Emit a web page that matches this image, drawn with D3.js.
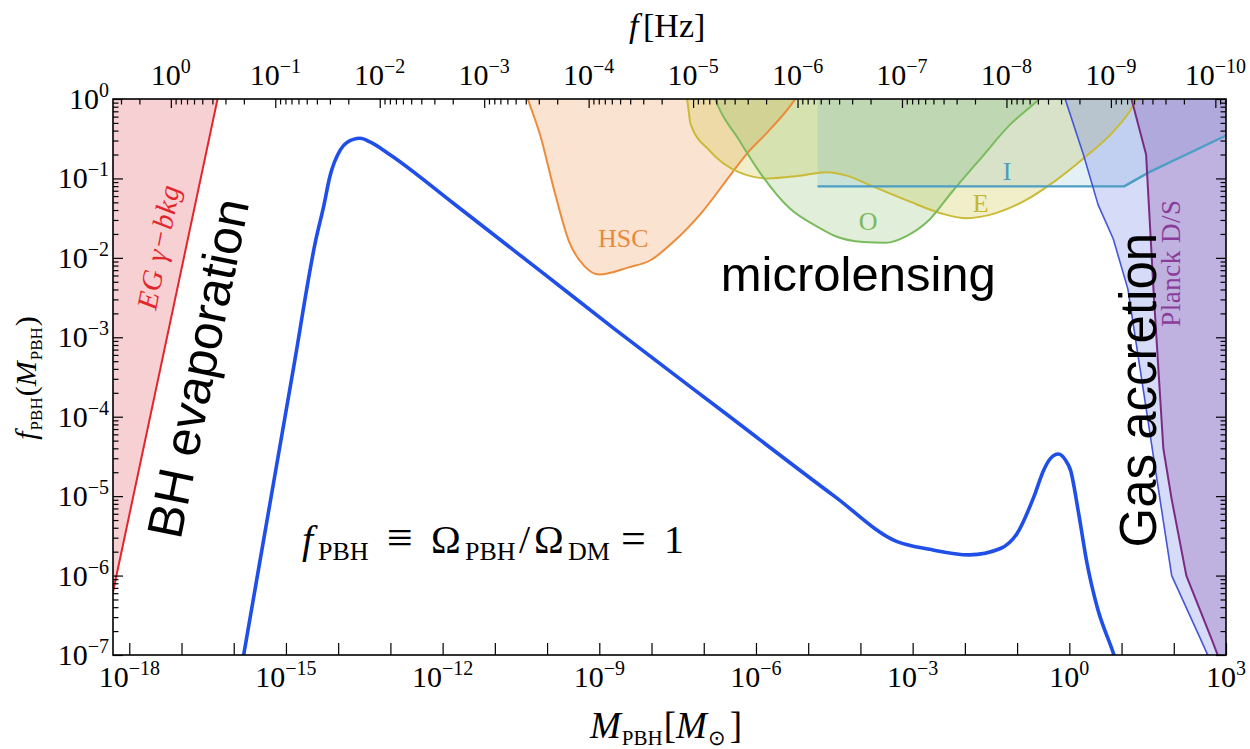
<!DOCTYPE html>
<html>
<head>
<meta charset="utf-8">
<title>PBH abundance and constraints</title>
<script src="https://cdn.jsdelivr.net/npm/d3@7/dist/d3.min.js"></script>
<style>
  html, body { margin: 0; padding: 0; background: #fff; }
  svg { display: block; }
</style>
</head>
<body>
<svg id="chart" width="1250" height="749"></svg>
<script>
// ---------- data (masses in solar masses, fractions f_PBH) ----------
const pbhMass = [1.26e-16, 1.55e-16, 5.01e-16, 1.41e-15, 3.80e-15, 5.25e-15, 6.92e-15, 1.10e-14, 1.45e-14,
  2.63e-14, 4.07e-14, 1e-13, 1.58e-12, 7.94e-11, 2.0e-9, 2.51e-7, 3.16e-5, 4.9e-4, 2.09e-3, 1.23e-2,
  4.79e-2, 0.1, 0.209, 0.324, 0.437, 0.617, 0.851, 1.05, 1.51, 2.19, 3.39, 7.08, 8.91];
const pbhFraction = [4.5e-8, 1.0e-7, 8.51e-6, 4.27e-4, 1.78e-2, 4.37e-2, 0.105, 0.229, 0.282,
  0.32, 0.288, 0.197, 0.049, 6.6e-3, 1.26e-3, 1.12e-4, 1.0e-5, 2.69e-6, 2.14e-6, 1.82e-6,
  2.19e-6, 3.39e-6, 9.77e-6, 2.14e-5, 2.99e-5, 3.39e-5, 2.82e-5, 2.14e-5, 6.03e-6, 1.41e-6, 4.07e-7, 1.02e-7, 6.3e-8];

// extragalactic gamma-ray background (evaporation)
const egMass = [3.16e-19, 4.9e-17, 6.31e-17];
const egFrac = [1.62e-7, 1.0, 2.19];

// Subaru HSC microlensing
const hscMass = [3.80e-11, 4.27e-11, 7.41e-11, 1.41e-10, 2.69e-10, 5.13e-10, 1e-9, 3.63e-9, 9.55e-9,
  2.51e-8, 9.12e-8, 3.39e-7, 6.46e-7, 1.70e-6, 5.25e-6, 6.31e-6];
const hscFrac = [1.26, 1, 0.347, 0.066, 0.0155, 7.94e-3, 6.17e-3, 7.59e-3, 9.33e-3,
  0.0155, 0.0372, 0.115, 0.2, 0.389, 0.933, 1.12];

// EROS
const erosMass = [4.37e-8, 4.79e-8, 5.62e-8, 1.29e-7, 4.68e-7, 1.70e-6, 6.17e-6, 2.24e-5, 5.89e-5,
  1.58e-4, 7.94e-4, 3.98e-3, 0.0105, 0.038, 0.141, 0.513, 1.86, 6.92, 15.5, 19.5, 21.4];
const erosFrac = [1.26, 1, 0.479, 0.224, 0.120, 0.1, 0.107, 0.120, 0.107,
  0.0813, 0.0525, 0.0355, 0.0316, 0.0363, 0.0525, 0.0912, 0.178, 0.389, 0.759, 1, 1.12];

// OGLE
const ogleMass = [1.51e-7, 1.66e-7, 4.68e-7, 1.23e-6, 4.47e-6, 1.62e-5, 3.09e-5, 1.15e-4, 3.02e-4,
  7.94e-4, 2.09e-3, 5.50e-3, 0.02, 0.0741, 0.195, 0.269, 0.302];
const ogleFrac = [1.2, 1, 0.309, 0.115, 0.0417, 0.024, 0.0191, 0.0158, 0.0155,
  0.0191, 0.0302, 0.066, 0.178, 0.479, 0.832, 1, 1.07];

// Icarus
const icarusMass = [1.51e-5, 1.51e-5, 11.2, 33.9, 174, 1000, 1500];
const icarusFrac = [1, 0.0794, 0.0794, 0.12, 0.2, 0.347, 0.38];

// gas accretion
const gasMass = [0.759, 0.832, 1.86, 3.55, 6.92, 13.2, 25.1, 47.9, 91.2, 331, 631];
const gasFrac = [1.26, 1, 0.2, 0.0468, 0.0174, 4.07e-3, 2.57e-4, 1.58e-5, 1e-6, 1.55e-7, 6.0e-8];

// Planck (disk / spherical accretion)
const planckMass = [14.1, 15.5, 29.5, 41.7, 63.1, 91.2, 174, 537, 794];
const planckFrac = [1.26, 1, 0.2, 3.16e-3, 3.98e-5, 9.12e-6, 1e-6, 1.55e-7, 7.9e-8];

// tick exponents
const massLabelExps = [-18, -15, -12, -9, -6, -3, 0, 3];
const fracLabelExps = [0, -1, -2, -3, -4, -5, -6, -7];
const freqLabelExps = [0, -1, -2, -3, -4, -5, -6, -7, -8, -9, -10];

// GW frequency associated with a PBH mass: f ~ 2.5e-9 Hz (M / Msun)^(-1/2)
const HZ_AT_SOLAR_MASS = 2.5e-9;
const massToFreq = m => HZ_AT_SOLAR_MASS / Math.sqrt(m);

// ---------- layout ----------
const plot = { left: 113, right: 1226, top: 99, bottom: 655 };
const massDomain = [4.88e-19, 1e3];
const fracDomain = [1e-7, 1];

const svg = d3.select('#chart');
const x = d3.scaleLog().domain(massDomain).range([plot.left, plot.right]);
const y = d3.scaleLog().domain(fracDomain).range([plot.bottom, plot.top]);
const xf = d3.scaleLog().domain(massDomain.map(massToFreq)).range([plot.left, plot.right]);

const SERIF = "'Liberation Serif', 'Times New Roman', serif";
const SANS = "'Liberation Sans', Arial, Helvetica, sans-serif";

svg.append('defs').append('clipPath').attr('id', 'plot-clip')
  .append('rect').attr('x', plot.left).attr('y', plot.top)
  .attr('width', plot.right - plot.left).attr('height', plot.bottom - plot.top);

const area = svg.append('g').attr('clip-path', 'url(#plot-clip)');

const pts = (ms, fs) => d3.zip(ms, fs);
const lineOf = curve => d3.line().x(d => x(d[0])).y(d => y(d[1])).curve(curve);
const smooth = lineOf(d3.curveMonotoneX);
const straight = lineOf(d3.curveLinear);

const outL = plot.left - 40, outR = plot.right + 40, outT = plot.top - 40, outB = plot.bottom + 40;

function region(path, fill, opacity) {
  area.append('path').attr('d', path).attr('fill', fill).attr('fill-opacity', opacity).attr('stroke', 'none');
}
function edge(path, color, width) {
  area.append('path').attr('d', path).attr('fill', 'none').attr('stroke', color)
    .attr('stroke-width', width).attr('stroke-linejoin', 'round');
}

// evaporation bound
const egPts = pts(egMass, egFrac);
region(straight(egPts) + `L${outL},${outT}Z`, 'rgb(222,60,72)', 0.24);

// microlensing bounds
const hscPts = pts(hscMass, hscFrac);
const erosPts = pts(erosMass, erosFrac);
const oglePts = pts(ogleMass, ogleFrac);
const icarusPts = pts(icarusMass, icarusFrac);
region(smooth(hscPts) + 'Z', 'rgb(240,140,62)', 0.24);
region(smooth(erosPts) + 'Z', 'rgb(200,192,45)', 0.26);
region(smooth(oglePts) + 'Z', 'rgb(118,184,88)', 0.22);
region(straight(icarusPts) + `L${outR},${outT}Z`, 'rgb(80,160,200)', 0.16);

// accretion bounds
const gasPts = pts(gasMass, gasFrac);
const planckPts = pts(planckMass, planckFrac);
region(straight(gasPts) + `L${outR},${outB}L${outR},${outT}Z`, 'rgb(92,110,222)', 0.25);
region(straight(planckPts) + `L${outR},${outB}L${outR},${outT}Z`, 'rgb(128,58,160)', 0.26);

edge(straight(egPts), '#e3262c', 2);
edge(smooth(hscPts), '#ec8b3a', 2);
edge(smooth(erosPts), '#c9bb38', 2);
edge(smooth(oglePts), '#7bbb5e', 2);
edge(straight(icarusPts.slice(1)), '#4c9ec4', 2.4);
edge(straight(gasPts), '#4556d8', 1.6);
edge(straight(planckPts), '#7b2a84', 2);

// PBH mass function
edge(smooth(pts(pbhMass, pbhFraction)), '#1f4fe8', 3.6);

// ---------- annotations ----------
const notes = svg.append('g');

function placeText(m, f, txt, opts) {
  const t = notes.append('text')
    .attr('transform', `translate(${x(m)},${y(f)}) rotate(${opts.rotate || 0})`)
    .attr('text-anchor', 'middle')
    .attr('font-family', opts.font || SERIF)
    .attr('font-size', opts.size)
    .attr('fill', opts.color || '#000')
    .text(txt);
  if (opts.italic) t.attr('font-style', 'italic');
  if (opts.dy) t.attr('dy', opts.dy);
  if (opts.spacing) t.attr('letter-spacing', opts.spacing);
  return t;
}

placeText(2.88e-9, 0.0138, 'HSC', { size: 26, color: '#e8893c' });
placeText(1.41e-4, 0.0224, 'O', { size: 26, color: '#7ab85c' });
placeText(0.02, 0.038, 'E', { size: 26, color: '#c4b631' });
placeText(0.0646, 0.0955, 'I', { size: 26, color: '#4a9cc0' });
placeText(134, 8.6e-3, 'Planck D/S', { size: 27, color: '#8a3d98', rotate: -90, spacing: 0.5 });
placeText(9.1e-5, 3.82e-3, 'microlensing', { size: 49, font: SANS });
placeText(3.55e-18, 0.0138, 'EG \u03b3\u2212bkg', { size: 29, color: '#e3262c', rotate: -79, italic: true, dy: '0.35em', spacing: 1 });
placeText(2.0e-17, 4.1e-4, 'BH evaporation', { size: 50, font: SANS, rotate: -78.5, dy: '0.36em' });
placeText(20.2, 2.16e-4, 'Gas accretion', { size: 51, font: SANS, rotate: -90, dy: '0.36em' });

// math-style text built from pieces
function mathText(sel, parts, size, subRatio) {
  const subSize = Math.round(size * (subRatio || 0.62));
  let shifted = 0;
  parts.forEach(p => {
    const ts = sel.append('tspan').text(p.t);
    if (p.italic) ts.attr('font-style', 'italic');
    if (p.x !== undefined) ts.attr('x', p.x);
    let dy = 0;
    if (p.sub) {
      const s = p.shift !== undefined ? p.shift : Math.round(size * 0.22);
      ts.attr('font-size', subSize);
      dy = s - shifted; shifted = s;
    } else {
      ts.attr('font-size', p.size || size);
      dy = -shifted; shifted = 0;
    }
    if (dy) ts.attr('dy', dy);
    if (p.dx) ts.attr('dx', p.dx);
  });
}

// f_PBH = Omega_PBH / Omega_DM = 1
const eq = notes.append('text').attr('y', 553).attr('font-family', SERIF).attr('fill', '#000');
mathText(eq, [
  { t: 'f', italic: true, x: 302 },
  { t: 'PBH', sub: true, x: 318, shift: 7 },
  { t: '\u2261', x: 387, size: 46 },
  { t: '\u03a9', x: 431 },
  { t: 'PBH', sub: true, x: 465, shift: 7 },
  { t: '/', x: 519 },
  { t: '\u03a9', x: 534 },
  { t: 'DM', sub: true, x: 568, shift: 7 },
  { t: '=', x: 621, size: 44 },
  { t: '1', x: 664 }
], 40, 0.65);

// ---------- axes ----------
const axesG = svg.append('g');
function tickAxis(axis, tx, ty) {
  const g = axesG.append('g').attr('transform', `translate(${tx},${ty})`).call(axis);
  g.select('.domain').remove();
  g.selectAll('.tick line').attr('stroke', '#000').attr('stroke-width', 1.2);
  g.selectAll('.tick text').remove();
  return g;
}

const massDecades = d3.range(-18, 4).map(p => Math.pow(10, p));
const fracDecades = d3.range(-7, 1).map(p => Math.pow(10, p));
const fracMinor = [];
d3.range(-7, 0).forEach(p => d3.range(2, 10).forEach(k => fracMinor.push(k * Math.pow(10, p))));
const freqLo = d3.min(xf.domain()), freqHi = d3.max(xf.domain());
const freqMajor = freqLabelExps.map(p => Math.pow(10, p));
const freqMinor = [];
d3.range(-11, 1).forEach(p => d3.range(2, 10).forEach(k => {
  const v = k * Math.pow(10, p);
  if (v > freqLo && v < freqHi) freqMinor.push(v);
}));

tickAxis(d3.axisBottom(x).tickValues(massDecades).tickSize(-12), 0, plot.bottom);
tickAxis(d3.axisLeft(y).tickValues(fracDecades).tickSize(-10), plot.left, 0);
tickAxis(d3.axisLeft(y).tickValues(fracMinor).tickSize(-5.5), plot.left, 0);
tickAxis(d3.axisRight(y).tickValues(fracDecades).tickSize(-10), plot.right, 0);
tickAxis(d3.axisRight(y).tickValues(fracMinor).tickSize(-5.5), plot.right, 0);
tickAxis(d3.axisTop(xf).tickValues(freqMajor).tickSize(-9), 0, plot.top);
tickAxis(d3.axisTop(xf).tickValues(freqMinor).tickSize(-5.5), 0, plot.top);

axesG.append('rect').attr('x', plot.left).attr('y', plot.top)
  .attr('width', plot.right - plot.left).attr('height', plot.bottom - plot.top)
  .attr('fill', 'none').attr('stroke', '#000').attr('stroke-width', 1.6);

// power-of-ten labels
const minus = e => (e < 0 ? '\u2212' + (-e) : String(e));
function powLabel(px, py, e, anchor) {
  const t = axesG.append('text').attr('x', px).attr('y', py)
    .attr('text-anchor', anchor).attr('font-family', SERIF).attr('fill', '#000');
  t.append('tspan').attr('font-size', 30).text('10');
  t.append('tspan').attr('font-size', 20).attr('dy', -12).text(minus(e));
}
massLabelExps.forEach(e => powLabel(x(Math.pow(10, e)), 687, e, 'middle'));
fracLabelExps.forEach(e => powLabel(109, y(Math.pow(10, e)) + 10, e, 'end'));
freqLabelExps.forEach(e => powLabel(xf(Math.pow(10, e)), 85, e, 'middle'));

// axis titles
const xTitle = axesG.append('text').attr('x', 590).attr('y', 738).attr('font-family', SERIF).attr('fill', '#000');
mathText(xTitle, [
  { t: 'M', italic: true },
  { t: 'PBH', sub: true, shift: 7, dx: 1 },
  { t: '[', dx: 1 },
  { t: 'M', italic: true },
  { t: '\u2299', sub: true, shift: 7, dx: 1 },
  { t: ']', dx: 4 }
], 37, 0.58);

const topTitle = axesG.append('text').attr('y', 37).attr('font-family', SERIF).attr('fill', '#000');
mathText(topTitle, [
  { t: 'f', italic: true, x: 629 },
  { t: '[Hz]', x: 643 }
], 34);

const yTitle = axesG.append('text')
  .attr('transform', 'translate(36,378) rotate(-90)')
  .attr('text-anchor', 'middle').attr('font-family', SERIF).attr('fill', '#000');
mathText(yTitle, [
  { t: 'f', italic: true },
  { t: 'PBH', sub: true, shift: 6, dx: 1 },
  { t: '(' , dx: 1 },
  { t: 'M', italic: true },
  { t: 'PBH', sub: true, shift: 6, dx: 1 },
  { t: ')', dx: 1 }
], 30, 0.58);
</script>
</body>
</html>
